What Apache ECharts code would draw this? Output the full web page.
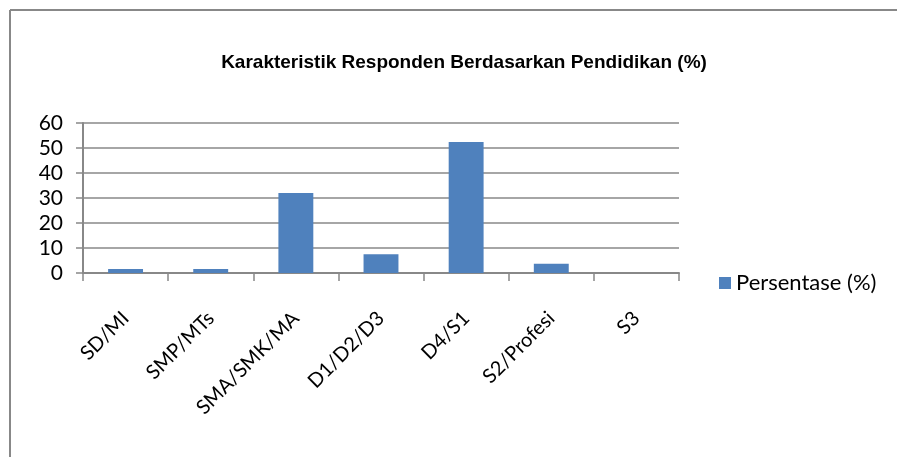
<!DOCTYPE html>
<html>
<head>
<meta charset="utf-8">
<script src="https://cdn.jsdelivr.net/npm/echarts@6/dist/echarts.min.js"></script>
<style>
html,body{margin:0;padding:0;background:#fff;}
#chart{width:897px;height:457px;}
</style>
</head>
<body>
<div id="chart"></div>
<script>
var titleText = 'Karakteristik Responden Berdasarkan Pendidikan (%)';
var seriesName = 'Persentase (%)';
var categories = ['SD/MI', 'SMP/MTs', 'SMA/SMK/MA', 'D1/D2/D3', 'D4/S1', 'S2/Profesi', 'S3'];
var values = [1.6, 1.6, 32, 7.5, 52.4, 3.7, 0];
var yTicks = [0, 10, 20, 30, 40, 50, 60];

var chart = echarts.init(document.getElementById('chart'), null, {renderer: 'canvas'});
var labelFont = 'Lato, "Open Sans", sans-serif';
chart.setOption({
  animation: false,
  backgroundColor: '#fff',
  title: {
    text: titleText,
    left: 459,
    top: 48,
    textAlign: 'center',
    textStyle: {
      fontFamily: '"Liberation Sans", Arial, sans-serif',
      fontWeight: 'bold',
      fontSize: 19,
      color: '#000'
    }
  },
  legend: {
    data: [seriesName],
    left: 714,
    top: 267,
    itemWidth: 12,
    itemHeight: 12,
    itemGap: 8,
    icon: 'rect',
    textStyle: {fontFamily: labelFont, fontSize: 22, color: '#000', padding: [0, 0, 0, 0]}
  },
  grid: {left: 83, right: 218, top: 123, bottom: 184},
  xAxis: {
    type: 'category',
    data: categories,
    axisLine: {lineStyle: {color: '#888', width: 2}},
    axisTick: {show: true, length: 8, lineStyle: {color: '#888', width: 1.5}},
    axisLabel: {
      rotate: 45,
      margin: 42,
      interval: 0,
      fontFamily: labelFont,
      fontSize: 20,
      color: '#000'
    }
  },
  yAxis: {
    type: 'value',
    min: yTicks[0],
    max: yTicks[yTicks.length - 1],
    interval: 10,
    axisLine: {show: true, lineStyle: {color: '#888', width: 2}},
    axisTick: {show: true, length: 7, lineStyle: {color: '#888', width: 1.5}},
    splitLine: {lineStyle: {color: '#888', width: 1.5}},
    axisLabel: {
      margin: 20,
      fontFamily: labelFont,
      fontSize: 21,
      color: '#000'
    }
  },
  series: [{
    name: seriesName,
    type: 'bar',
    data: values,
    barWidth: '41%',
    itemStyle: {color: '#4F81BD', borderWidth: 0}
  }],
  graphic: [
    {type: 'line', shape: {x1: 10, y1: 10, x2: 897, y2: 10}, style: {stroke: '#888', lineWidth: 2}},
    {type: 'line', shape: {x1: 10, y1: 10, x2: 10, y2: 457}, style: {stroke: '#888', lineWidth: 2}}
  ]
});
</script>
</body>
</html>
